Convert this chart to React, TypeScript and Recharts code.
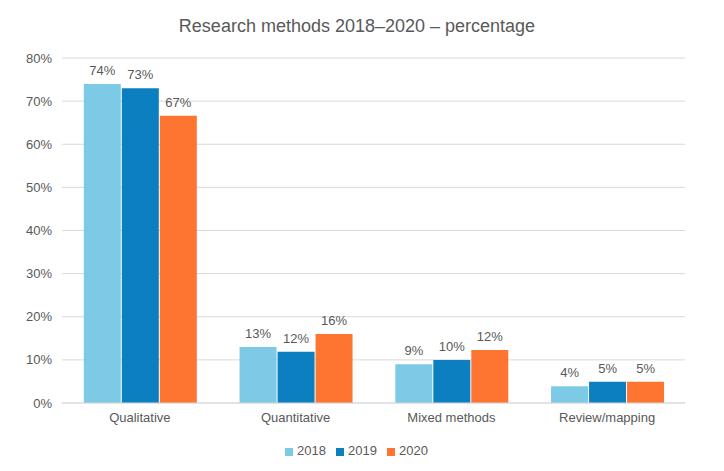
import { BarChart, Bar, XAxis, YAxis, CartesianGrid, Legend, LabelList } from 'recharts';

const categories = ['Qualitative', 'Quantitative', 'Mixed methods', 'Review/mapping'];
const values2018 = [74, 13, 9, 3.9];
const values2019 = [73, 11.9, 10, 4.9];
const values2020 = [66.6, 16, 12.3, 4.9];
const yTicks = [0, 10, 20, 30, 40, 50, 60, 70, 80];

const data = categories.map((name, i) => ({
   name,
   y2018: values2018[i],
   y2019: values2019[i],
   y2020: values2020[i],
}));

const font = '"Liberation Sans", Arial, sans-serif';
const textColor = '#595959';

const pct = (v: any) => `${Math.round(Number(v))}%`;

export default function App() {
   return (
      <div style={{ position: 'absolute', left: 0, top: 0, width: 724, height: 471, background: '#fff', fontFamily: font }}>
         <div style={{ position: 'absolute', top: 16, left: 0, width: 714, textAlign: 'center', fontSize: 18, color: textColor }}>
            Research methods 2018–2020 – percentage
         </div>
         <BarChart
            width={724}
            height={471}
            data={data}
            margin={{ top: 58, right: 39, bottom: 13, left: 0 }}
            barCategoryGap="14%"
            barGap={1}
         >
            <CartesianGrid vertical={false} stroke="#d9d9d9" />
            <XAxis
               dataKey="name"
               height={40}
               tickSize={0}
               tickMargin={10}
               stroke="#d9d9d9"
               tick={{ fill: textColor, fontSize: 13, fontFamily: font }}
            />
            <YAxis
               width={62}
               domain={[0, 80]}
               ticks={yTicks}
               tickFormatter={(v) => `${v}%`}
               axisLine={false}
               tickSize={0}
               tickMargin={10}
               tick={{ fill: textColor, fontSize: 13, fontFamily: font }}
            />
            <Legend
               verticalAlign="bottom"
               iconType="square"
               iconSize={8}
               wrapperStyle={{ fontSize: 13, fontFamily: font, color: textColor, paddingLeft: 38, boxSizing: 'border-box' }}
               formatter={(value) => <span style={{ color: textColor }}>{value}</span>}
            />
            <Bar dataKey="y2018" name="2018" fill="#7ccae6" isAnimationActive={false}>
               <LabelList dataKey="y2018" position="top" offset={9} formatter={pct} fill={textColor} fontSize={13} fontFamily={font} />
            </Bar>
            <Bar dataKey="y2019" name="2019" fill="#0c7fc1" isAnimationActive={false}>
               <LabelList dataKey="y2019" position="top" offset={9} formatter={pct} fill={textColor} fontSize={13} fontFamily={font} />
            </Bar>
            <Bar dataKey="y2020" name="2020" fill="#fd7531" isAnimationActive={false}>
               <LabelList dataKey="y2020" position="top" offset={9} formatter={pct} fill={textColor} fontSize={13} fontFamily={font} />
            </Bar>
         </BarChart>
      </div>
   );
}
